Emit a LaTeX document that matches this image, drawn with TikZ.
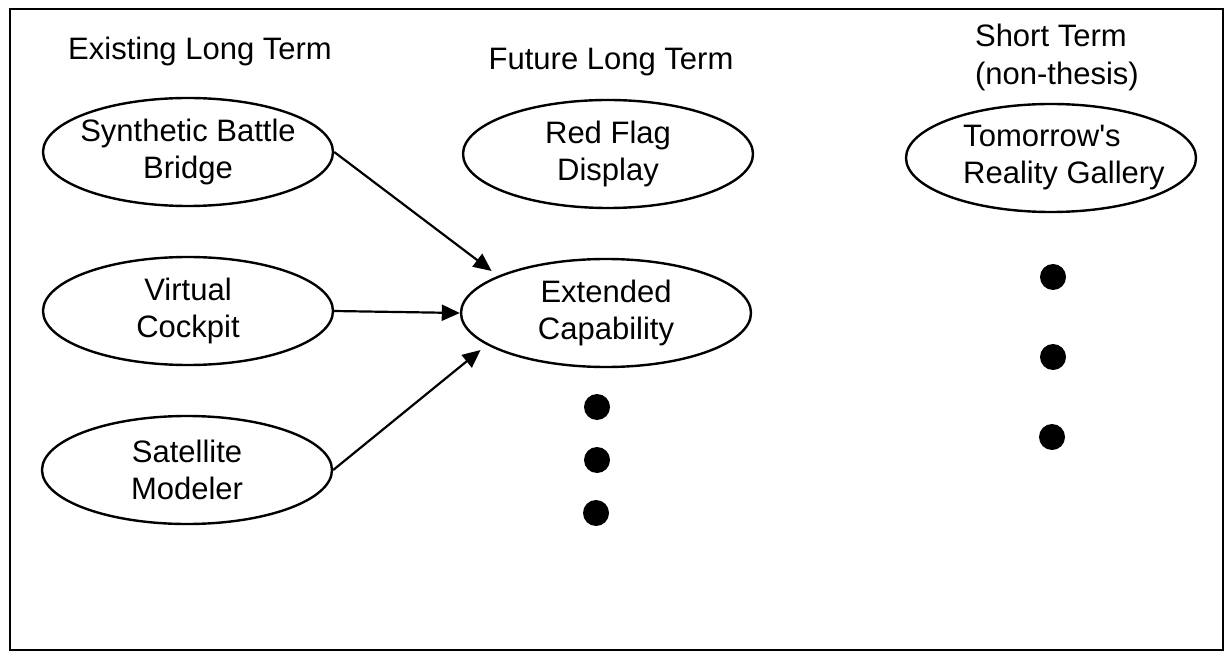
\documentclass[tikz,border=0pt]{standalone}
\usepackage{fontspec}
\setmainfont{Liberation Sans}[Ligatures=TeXOff]
\usetikzlibrary{shapes.geometric,arrows.meta}
\begin{document}
\begin{tikzpicture}[x=0.5pt,y=-0.5pt,
  every node/.style={font=\fontsize{15.5}{18.5}\selectfont},
  item/.style={ellipse, draw, line width=1.2pt, minimum width=145pt,
    minimum height=54pt, inner xsep=-4pt, inner ysep=-3pt, align=center,
    execute at begin node={\rule{0pt}{19pt}}},
  heading/.style={anchor=base},
  link/.style={line width=1.1pt, -{Triangle[length=9pt,width=8pt]}},
  more/.style={circle, fill=black, minimum size=13pt, inner sep=0pt}]
\useasboundingbox (0,0) rectangle (1229,657);
% frame
\draw[line width=1pt] (10,9) rectangle (1223,650);

% column headings
\node[heading] (hexist)  at (200,60) {Existing Long Term};
\node[heading] (hfuture) at (611,70) {Future Long Term};
\node[anchor=base west, align=left, font=\fontsize{15.5}{19}\selectfont]
  (hshort) at (968,85) {Short Term\\(non-thesis)};

% existing long term
\node[item] (syn) at (188,152) {Synthetic Battle\\Bridge};
\node[item] (vc)  at (188,311) {Virtual\\Cockpit};
\node[item] (sat) at (187,470) {Satellite\\Modeler};

% future long term
\node[item] (rfd) at (608,154) {Red Flag\\Display};
\node[item] (ext) at (606,313) {Extended\\Capability};
\node[more] (f1) at (597,407) {};
\node[more] (f2) at (597,460) {};
\node[more] (f3) at (596,513) {};

% short term
\node[item, align=left, inner xsep=-6pt] (trg) at (1051,158)
  {\hspace*{13pt}Tomorrow's\\\hspace*{13pt}Reality Gallery};
\node[more] (s1) at (1053,277) {};
\node[more] (s2) at (1053,357) {};
\node[more] (s3) at (1052,437) {};

% connectors
\draw[link, shorten >=4pt] (syn.east) -- (ext.161);
\draw[link] (vc.east) -- (ext.west);
\draw[link, shorten >=4pt] (sat.east) -- (ext.195);
\end{tikzpicture}
\end{document}
